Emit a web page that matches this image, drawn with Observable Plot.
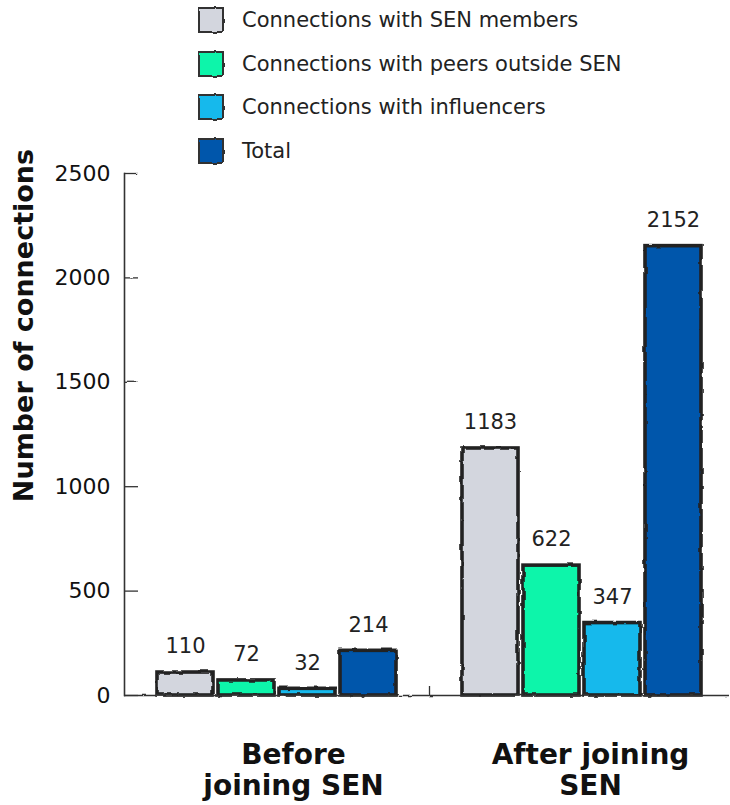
<!DOCTYPE html>
<html>
<head>
<meta charset="utf-8">
<script src="https://cdn.jsdelivr.net/npm/d3@7"></script>
<script src="https://cdn.jsdelivr.net/npm/@observablehq/plot@0.6"></script>
<style>
  html, body { margin: 0; padding: 0; background: #fff; }
  #wrap { width: 730px; height: 805px; position: relative; font-family: "DejaVu Sans", sans-serif; }
  #legend { position: absolute; left: 198px; top: 7px; }
  .row { display: flex; align-items: center; height: 26px; margin-bottom: 17.7px; }
  .sw { width: 22px; height: 22px; border: 2px solid #333; box-sizing: content-box; }
  .lab { margin-left: 18px; font-size: 21px; color: #222; line-height: 26px; }
  svg { display: block; }
</style>
</head>
<body>
<svg width="0" height="0" style="position:absolute">
  <defs>
    <filter id="rough" filterUnits="userSpaceOnUse" x="-20" y="-20" width="800" height="860">
      <feTurbulence type="fractalNoise" baseFrequency="0.09" numOctaves="2" seed="3" result="noise"/>
      <feDisplacementMap in="SourceGraphic" in2="noise" scale="2.8" xChannelSelector="R" yChannelSelector="G"/>
    </filter>
    <filter id="roughbox" x="-20%" y="-20%" width="140%" height="140%">
      <feTurbulence type="fractalNoise" baseFrequency="0.09" numOctaves="2" seed="5" result="noise"/>
      <feDisplacementMap in="SourceGraphic" in2="noise" scale="2.4" xChannelSelector="R" yChannelSelector="G"/>
    </filter>
  </defs>
</svg>
<div id="wrap">
  <div id="chart"></div>
  <div id="legend"></div>
</div>
<script>
// ---- data ----
const groups = ["Before joining SEN", "After joining SEN"];
const series = [
  "Connections with SEN members",
  "Connections with peers outside SEN",
  "Connections with influencers",
  "Total"
];
const beforeValues = [110, 72, 32, 214];
const afterValues = [1183, 622, 347, 2152];
const colors = ["#d3d6de", "#0bf5aa", "#15b9ec", "#0057ab"];
const yTicks = [0, 500, 1000, 1500, 2000, 2500];
const yLabel = "Number of connections";

// ---- build table ----
const groupValues = [beforeValues, afterValues];
const rows = [];
groups.forEach((g, gi) => {
  series.forEach((s, si) => {
    rows.push({group: g, series: s, key: `${gi}-${si}`, value: groupValues[gi][si]});
  });
});
const gapKey = "gap";
const xDomain = [
  ...series.map((_, si) => `0-${si}`),
  gapKey,
  ...series.map((_, si) => `1-${si}`)
];
const groupLabels = groups.map((g, gi) => ({group: g, key: `${gi}-2`}));

// ---- legend ----
const legend = document.getElementById("legend");
series.forEach((s, i) => {
  const row = document.createElement("div");
  row.className = "row";
  const sw = document.createElement("div");
  sw.className = "sw";
  sw.style.background = colors[i];
  sw.style.filter = "url(#roughbox)";
  const lab = document.createElement("div");
  lab.className = "lab";
  lab.textContent = s;
  row.appendChild(sw);
  row.appendChild(lab);
  legend.appendChild(row);
});

// ---- chart ----
const ink = "#222";
const chart = Plot.plot({
  width: 730,
  height: 805,
  marginTop: 173,
  marginBottom: 110,
  marginLeft: 124,
  marginRight: 0,
  style: {fontFamily: "DejaVu Sans, sans-serif", color: ink, background: "white"},
  x: {domain: xDomain, range: [124, 734], paddingInner: 0.082, paddingOuter: 0.54, axis: null},
  y: {domain: [0, 2500], axis: null},
  color: {domain: series, range: colors},
  marks: [
    Plot.barY(rows, {x: "key", y: "value", fill: "series", stroke: ink, strokeWidth: 3.6}),
    Plot.ruleY([0], {stroke: "#333", strokeWidth: 1.6}),
    Plot.frame({anchor: "left", stroke: "#333", strokeWidth: 1.6}),
    Plot.axisY({ticks: yTicks, tickSize: 0, tickPadding: 14, fontSize: 22, label: null, tickFormat: d => String(d), fill: "#111"}),
    Plot.axisY({ticks: yTicks, tickSize: 14, dx: 14, stroke: "#333", strokeWidth: 1.3, label: null, tickFormat: () => ""}),
    Plot.axisX({ticks: [gapKey], tickSize: 10, dy: -10, stroke: "#333", strokeWidth: 1.3, label: null, tickFormat: () => ""}),
    Plot.text(rows, {x: "key", y: "value", text: d => String(d.value), dy: -26, lineAnchor: "middle", fontSize: 21, fill: ink}),
    Plot.text(groupLabels.slice(0, 1), {x: "key", y: () => 0, text: d => d.group.replace(" joining", "\njoining"), lineAnchor: "top", dy: 47, dx: -14, fontSize: 28, fontWeight: "bold", lineHeight: 1.1, fill: "#111"}),
    Plot.text(groupLabels.slice(1), {x: "key", y: () => 0, text: d => d.group.replace(" SEN", "\nSEN"), lineAnchor: "top", dy: 47, dx: -22, fontSize: 28, fontWeight: "bold", lineHeight: 1.1, fill: "#111"}),
    Plot.text([yLabel], {frameAnchor: "top-left", text: d => d, rotate: -90, dx: -100, dy: 152, lineAnchor: "middle", textAnchor: "middle", fontSize: 27, fontWeight: "bold", fill: "#111"})
  ]
});
document.getElementById("chart").appendChild(chart);

// hand-drawn wobble on bars and axes
chart.querySelectorAll('g[aria-label="bar"], g[aria-label="rule"], g[aria-label="frame"], g[aria-label="y-axis tick"], g[aria-label="x-axis tick"]').forEach(g => g.setAttribute("filter", "url(#rough)"));
</script>
</body>
</html>
